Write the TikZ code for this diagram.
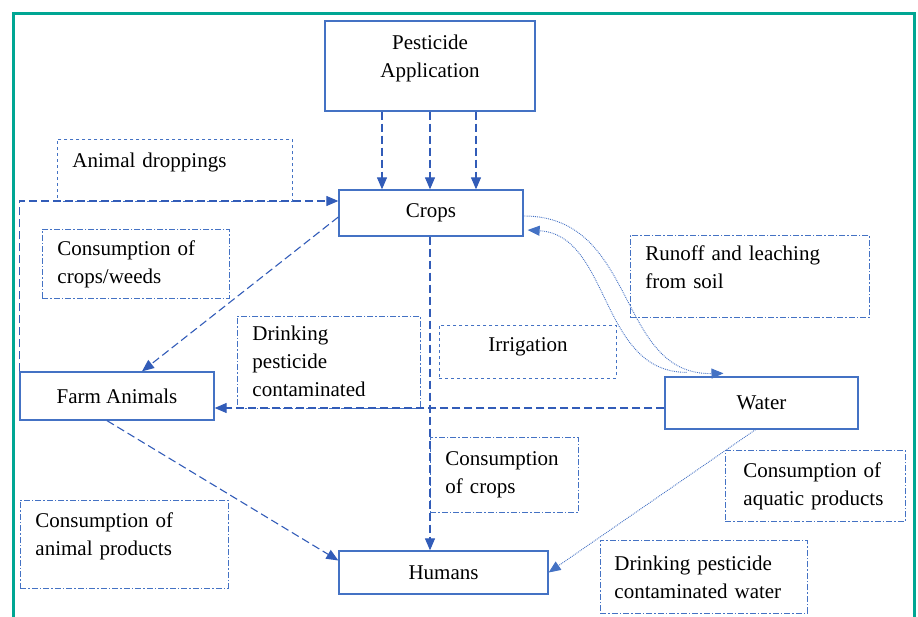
\documentclass[tikz,border=0pt]{standalone}
\usepackage{fontspec}
\setmainfont{Liberation Serif}
\usepackage{tikz}
\usetikzlibrary{arrows.meta}
\definecolor{framegreen}{RGB}{0,166,147}
\definecolor{boxblue}{RGB}{68,114,196}
\definecolor{arrowblue}{RGB}{50,92,184}

\begin{document}
\begin{tikzpicture}[
    x=1pt, y=-1pt,
    every node/.style={font=\fontsize{21}{28}\selectfont, inner sep=0pt},
    stage/.style={draw=boxblue, line width=1.3pt, align=center},
    tag/.style={draw=boxblue, line width=0.9pt, dash pattern=on 6pt off 2pt on 1.5pt off 2pt,
        anchor=north west, inner xsep=15pt, align=left},
    flow/.style={draw=arrowblue, line width=1.1pt, dash pattern=on 8pt off 4pt,
        -{Triangle[length=12pt,width=10pt]}},
    seep/.style={draw=boxblue, line width=0.9pt, densely dotted, -{Triangle[length=12pt,width=10pt]}}
]
\useasboundingbox (0,0) rectangle (918,617);

% Frame
\draw[framegreen, line width=3pt] (13,625) -- (13,14) -- (914,14) -- (914,625);

% Nodes
\node[stage, minimum width=210pt, minimum height=90pt, text depth=20pt] (app) at (430,66) {Pesticide\\Application};
\node[stage, minimum width=184pt, minimum height=46pt] (crops) at (431,213) {Crops};
\node[stage, minimum width=194pt, minimum height=48pt] (animals) at (117,396) {Farm Animals};
\node[stage, minimum width=193pt, minimum height=52pt] (water) at (761.5,403) {Water};
\node[stage, minimum width=209pt, minimum height=43pt] (humans) at (443.5,572.5) {Humans};

% Labels
\node[tag, dashed, text width=205pt, minimum height=62pt, text depth=21pt] (droptag) at (57,139) {Animal droppings};
\node[tag, text width=157pt, minimum height=69pt] (weedtag) at (42,229) {Consumption of\\crops/weeds};
\node[tag, text width=153pt, minimum height=92pt, text depth=58pt] (drinktag) at (237,316) {Drinking\\pesticide\\contaminated};
\node[tag, text width=209pt, minimum height=82pt, text depth=46pt] (runofftag) at (630,235) {Runoff and leaching\\from soil};
\node[tag, dashed, align=center, text width=147pt, minimum height=53pt, text depth=14pt] (irrigtag) at (439,325) {Irrigation};
\node[tag, text width=118pt, minimum height=75pt] (croptag) at (430,437) {Consumption\\of crops};
\node[tag, inner xsep=18pt, text width=144pt, minimum height=71pt] (aquatag) at (725,450) {Consumption of\\aquatic products};
\node[tag, inner xsep=14pt, text width=179pt, minimum height=73pt] (wdrinktag) at (600,540) {Drinking pesticide\\contaminated water};
\node[tag, text width=178pt, minimum height=88pt, text depth=48pt] (prodtag) at (20,500) {Consumption of\\animal products};

% Arrows
\draw[flow] ([xshift=-48pt]app.south) -- ([xshift=-48pt]app.south |- crops.north);
\draw[flow] (app.south) -- (app.south |- crops.north);
\draw[flow] ([xshift=46pt]app.south) -- ([xshift=46pt]app.south |- crops.north);

\draw[flow] (animals.north west) |- ([yshift=12pt]crops.west);
\draw[flow] ([yshift=-4pt]crops.west) -- ([xshift=25pt]animals.north);
\draw[flow] ([yshift=-5pt]water.west) -- ([yshift=-5pt]water.west -| animals.east);
\draw[flow] ([xshift=-1pt]crops.south) -- ([xshift=-1pt]crops.south |- humans.north);
\draw[flow] ([xshift=-10pt]animals.south) -- ([yshift=12pt]humans.west);

\draw[seep] ([yshift=-3pt]crops.east) .. controls +(115,0) and +(-108,2) .. ([xshift=-38pt,yshift=3pt]water.north);
\draw[seep] ([xshift=-75pt,yshift=4pt]water.north) .. controls +(-87,0) and +(83,5) .. ([xshift=4pt,yshift=-17pt]crops.east);
\draw[seep] ([xshift=-6pt]water.south) -- (humans.east);

\end{tikzpicture}
\end{document}
